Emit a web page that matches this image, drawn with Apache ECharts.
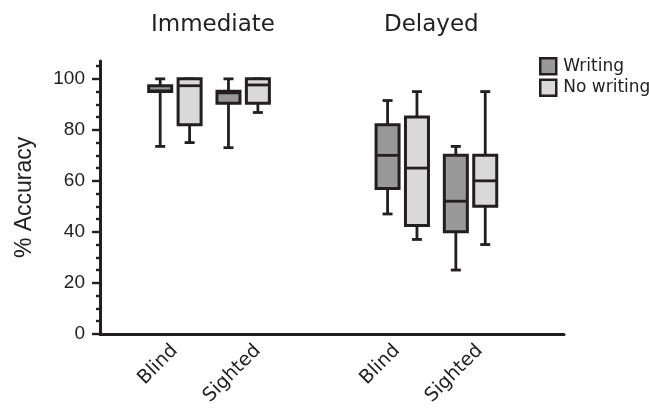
<!DOCTYPE html>
<html>
<head>
<meta charset="utf-8">
<script src="https://cdn.jsdelivr.net/npm/echarts@6/dist/echarts.min.js"></script>
<style>
  html, body { margin: 0; padding: 0; background: #fff; }
  #main { width: 649px; height: 408px; }
</style>
</head>
<body>
<div id="main"></div>
<script>
// groups and categories
var groups = ['Immediate', 'Delayed'];
var categories = ['Blind', 'Sighted', 'Blind', 'Sighted'];
var seriesNames = ['Writing', 'No writing'];

// [min, Q1, median, Q3, max]
var writing = [
    [73.5, 95, 95.3, 97.3, 100],
    [73, 90.4, 94.5, 95.1, 100],
    [47, 57, 70, 82, 91.5],
    [25, 40, 52, 70, 73.5]
];
var noWriting = [
    [75, 82, 97.3, 100, 100],
    [86.8, 90.4, 97.6, 100, 100],
    [37, 42.5, 65, 85, 95],
    [35, 50, 60, 70, 95]
];

var yLabels = [0, 20, 40, 60, 80, 100];
var yMinorTicks = [5, 10, 15, 25, 30, 35, 45, 50, 55, 65, 70, 75, 85, 90, 95, 105];

// x layout on the value axis
var boxPos = [1.13, 2.16, 4.56, 5.59];
var labelPos = [1.13, 2.38, 4.48, 5.73];

var LINE = '#231f20';
var BOX_W = 23;
var CAP_W = 10;
var OFFSET = 14.7;

function withPos(rows) {
    return rows.map(function (r, i) {
        return [boxPos[i]].concat(r);
    });
}

function boxItem(offset, fill) {
    return function (params, api) {
        var x = api.value(0);
        var p = [1, 2, 3, 4, 5].map(function (d) {
            return api.coord([x, api.value(d)]);
        });
        var cx = p[0][0] + offset;
        var yMin = p[0][1], yQ1 = p[1][1], yMed = p[2][1], yQ3 = p[3][1], yMax = p[4][1];
        var ls = { stroke: LINE, lineWidth: 2.8 };
        return {
            type: 'group',
            children: [
                { type: 'line', shape: { x1: cx, y1: yQ3, x2: cx, y2: yMax }, style: ls },
                { type: 'line', shape: { x1: cx, y1: yQ1, x2: cx, y2: yMin }, style: ls },
                { type: 'line', shape: { x1: cx - CAP_W / 2, y1: yMax, x2: cx + CAP_W / 2, y2: yMax }, style: ls },
                { type: 'line', shape: { x1: cx - CAP_W / 2, y1: yMin, x2: cx + CAP_W / 2, y2: yMin }, style: ls },
                {
                    type: 'rect',
                    shape: { x: cx - BOX_W / 2, y: yQ3, width: BOX_W, height: yQ1 - yQ3 },
                    style: { fill: fill, stroke: LINE, lineWidth: 3 }
                },
                { type: 'line', shape: { x1: cx - BOX_W / 2, y1: yMed, x2: cx + BOX_W / 2, y2: yMed }, style: ls }
            ]
        };
    };
}

var myChart = echarts.init(document.getElementById('main'));

let option = {
    animation: false,
    title: [
        {
            text: groups[0], left: 151, top: 14, padding: 0,
            textStyle: { fontFamily: 'DejaVu Sans', fontSize: 23, fontWeight: 'normal', color: '#222' }
        },
        {
            text: groups[1], left: 384, top: 14, padding: 0,
            textStyle: { fontFamily: 'DejaVu Sans', fontSize: 23, fontWeight: 'normal', color: '#222' }
        }
    ],
    legend: {
        orient: 'vertical',
        left: 534,
        top: 52,
        itemWidth: 16,
        itemHeight: 16,
        itemGap: 3,
        data: [
            { name: seriesNames[0], icon: 'rect', itemStyle: { color: '#999999', borderColor: LINE, borderWidth: 2.5 } },
            { name: seriesNames[1], icon: 'rect', itemStyle: { color: '#d9d9d9', borderColor: LINE, borderWidth: 2.5 } }
        ],
        textStyle: { fontFamily: 'DejaVu Sans', fontSize: 17, color: '#222', lineHeight: 16, padding: [0, 0, 0, 2] }
    },
    grid: {
        left: 100,
        right: 85,
        top: 61,
        bottom: 74
    },
    xAxis: {
        type: 'value',
        min: 0,
        max: 7,
        splitLine: { show: false },
        axisTick: { show: false },
        axisLine: { lineStyle: { color: LINE, width: 3 } },
        axisLabel: {
            customValues: labelPos,
            rotate: 45,
            margin: 14,
            fontFamily: 'DejaVu Sans',
            fontSize: 19,
            color: '#222',
            formatter: function (v) {
                var i = labelPos.indexOf(v);
                return i >= 0 ? categories[i] : '';
            }
        }
    },
    yAxis: [
        {
            type: 'value',
            position: 'left',
            min: 0,
            max: 107,
            name: '% Accuracy',
            nameLocation: 'middle',
            nameGap: 64,
            nameTextStyle: { fontFamily: 'Liberation Sans', fontSize: 23, color: '#222' },
            splitLine: { show: false },
            axisLine: { show: true, lineStyle: { color: LINE, width: 3 } },
            axisTick: { show: true, customValues: yLabels, length: 8, lineStyle: { color: LINE, width: 2.4 } },
            axisLabel: {
                customValues: yLabels,
                margin: 15,
                fontFamily: 'Liberation Sans',
                fontSize: 19,
                color: '#222'
            }
        },
        {
            type: 'value',
            position: 'left',
            min: 0,
            max: 107,
            splitLine: { show: false },
            axisLine: { show: false },
            axisLabel: { show: false },
            axisTick: { show: true, customValues: yMinorTicks, length: 4, lineStyle: { color: LINE, width: 2.4 } }
        }
    ],
    series: [
        {
            name: seriesNames[0],
            type: 'custom',
            itemStyle: { color: '#999999' },
            encode: { x: 0, y: [1, 2, 3, 4, 5] },
            renderItem: boxItem(-OFFSET, '#999999'),
            data: withPos(writing)
        },
        {
            name: seriesNames[1],
            type: 'custom',
            itemStyle: { color: '#d9d9d9' },
            encode: { x: 0, y: [1, 2, 3, 4, 5] },
            renderItem: boxItem(OFFSET, '#d9d9d9'),
            data: withPos(noWriting)
        }
    ]
};

myChart.setOption(option);
</script>
</body>
</html>
